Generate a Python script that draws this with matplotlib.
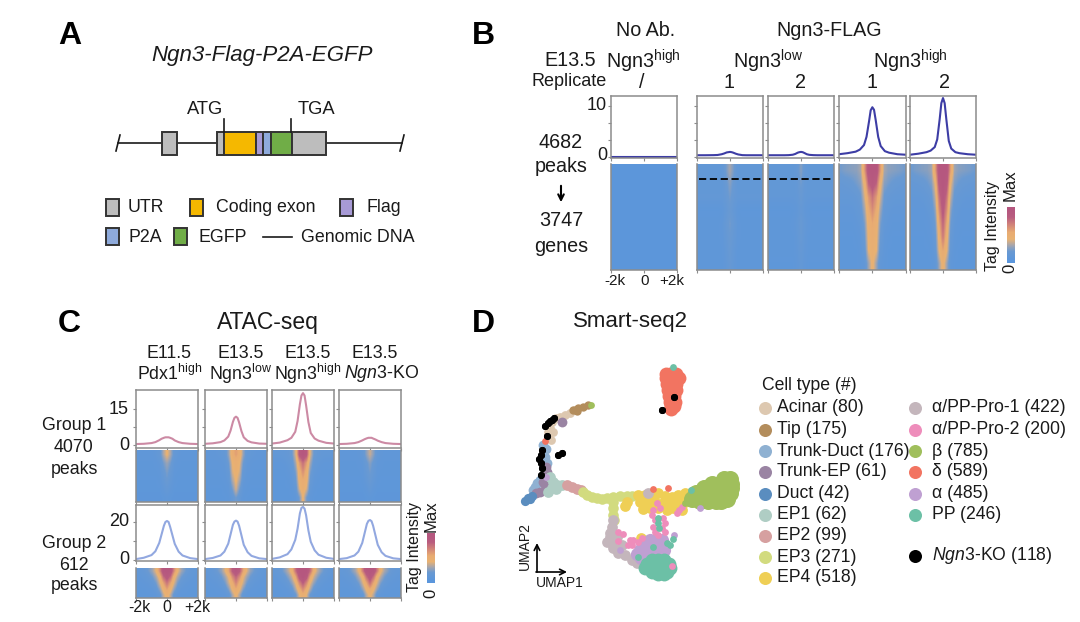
import numpy as np
import matplotlib
matplotlib.use('Agg')
import matplotlib.pyplot as plt
from matplotlib.colors import LinearSegmentedColormap
from matplotlib.patches import Rectangle

plt.rcParams['font.family'] = ['Liberation Sans', 'DejaVu Sans']
plt.rcParams['mathtext.fontset'] = 'custom'
plt.rcParams['mathtext.rm'] = 'Liberation Sans'
plt.rcParams['mathtext.it'] = 'Liberation Sans:italic'

W, H = 1080, 622
TXT = '#1a1a1a'

# gene model
exon_edges = [216.7, 224.3, 255.7, 262.7, 270.7, 291.7, 326]
exon_cols = ['#BDBDBD', '#F5B800', '#A79AD6', '#8EAADB', '#70AD47', '#BDBDBD']

# peak profiles, kb from the centre
kb = [-2, -1.5, -1, -.75, -.5, -.35, -.2, -.1, 0, .1, .2, .35, .5, .75, 1, 1.5, 2]
b_noab = [.1, .1, .1, .1, .1, .1, .1, .1, .1, .1, .1, .1, .1, .1, .1, .1, .1]
b_low1 = [.4, .4, .42, .45, .6, .75, .95, 1, 1.05, 1, .9, .7, .55, .42, .4, .4, .4]
b_low2 = [.4, .4, .4, .42, .5, .65, .9, 1, 1.05, 1, .85, .6, .48, .42, .4, .4, .4]
b_high1 = [.6, .8, 1.1, 1.5, 2.4, 4, 7, 9.2, 9.8, 9.3, 7.3, 4, 2.2, 1.2, .9, .6, .5]
b_high2 = [.5, .7, 1, 1.3, 2, 3.5, 7.5, 10.6, 11.6, 10.6, 7.5, 3.2, 1.7, 1, .8, .6, .5]
c1_pdx = [.4, .5, .8, 1.2, 2, 2.6, 3, 3.2, 3.2, 3.2, 3, 2.6, 1.9, 1.2, .8, .5, .4]
c1_low = [.5, .7, 1.2, 1.9, 3.5, 6, 9.6, 11.3, 11.8, 11.3, 9.4, 5.8, 3.2, 1.7, 1.1, .6, .5]
c1_high = [.6, 1, 2, 3, 5.5, 10, 17, 20.6, 21.6, 20.6, 16.5, 9.5, 5, 2.7, 1.8, .9, .6]
c1_ko = [.4, .5, .8, 1.2, 1.9, 2.4, 2.8, 3, 3, 3, 2.7, 2.3, 1.8, 1.2, .8, .5, .4]
c2_pdx = [.5, 1.2, 2.6, 4.6, 9, 13.5, 18, 20, 20.5, 20, 17.5, 13, 8.5, 4.4, 2.4, 1, .5]
c2_low = [.5, 1.1, 2.4, 4.4, 8.6, 13.5, 18.5, 20.2, 20.7, 20.2, 18, 13, 8, 4.1, 2.2, .9, .5]
c2_high = [.6, 1.4, 3.1, 5.6, 10.6, 16.5, 24.5, 27.4, 27.9, 27, 23.5, 15.5, 9.6, 5.1, 2.8, 1.2, .6]
c2_ko = [.5, 1, 2.4, 4.4, 9, 14, 19, 20.6, 21, 20.4, 18, 13, 8, 4.1, 2.2, .9, .5]

# heatmap rows top to bottom, columns centre to edge every 0.25 kb
hm_noab = [[.02] * 9, [.02] * 9]
hm_b_low1 = [[.3, .2, .1, .09, .09, .09, .09, .09, .09],
             [.24, .16, .09, .09, .09, .09, .09, .09, .09],
             [.2, .14, .1, .1, .1, .1, .1, .1, .1],
             [.17, .11, .06, .05, .05, .05, .05, .05, .05],
             [.2, .14, .07, .06, .06, .06, .06, .06, .06],
             [.18, .12, .07, .06, .06, .06, .06, .06, .06],
             [.16, .1, .06, .06, .06, .06, .06, .06, .06],
             [.14, .09, .06, .06, .06, .06, .06, .06, .06]]
hm_b_low2 = [[.24, .13, .09, .09, .09, .09, .09, .09, .09],
             [.2, .11, .09, .09, .09, .09, .09, .09, .09],
             [.16, .1, .09, .09, .09, .09, .09, .09, .09],
             [.13, .08, .06, .05, .05, .05, .05, .05, .05],
             [.16, .1, .07, .06, .06, .06, .06, .06, .06],
             [.15, .09, .06, .06, .06, .06, .06, .06, .06],
             [.13, .08, .06, .06, .06, .06, .06, .06, .06],
             [.11, .07, .05, .05, .05, .05, .05, .05, .05]]
hm_b_high1 = [[1, .98, .62, .3, .25, .24, .23, .22, .2],
              [.92, .82, .46, .24, .2, .17, .15, .14, .13],
              [.76, .62, .38, .17, .13, .11, .1, .1, .1],
              [.66, .54, .29, .13, .1, .08, .08, .08, .08],
              [.56, .48, .22, .1, .08, .06, .06, .06, .06],
              [.52, .45, .18, .08, .06, .05, .05, .05, .05],
              [.48, .42, .13, .07, .05, .05, .05, .05, .05],
              [.46, .28, .09, .06, .05, .05, .05, .05, .05]]
hm_b_high2 = [[1, .98, .58, .28, .24, .23, .22, .21, .19],
              [1, .9, .42, .22, .18, .15, .14, .13, .12],
              [.96, .76, .34, .15, .12, .1, .09, .09, .09],
              [.9, .66, .25, .11, .09, .07, .07, .07, .07],
              [.82, .55, .19, .09, .07, .06, .06, .06, .06],
              [.74, .47, .15, .07, .06, .05, .05, .05, .05],
              [.58, .42, .11, .06, .05, .05, .05, .05, .05],
              [.48, .28, .08, .05, .05, .05, .05, .05, .05]]
hm_c1_pdx = [[.44, .3, .13, .09, .07, .07, .07, .07, .07],
             [.28, .2, .09, .07, .06, .06, .06, .06, .06],
             [.22, .15, .07, .06, .06, .06, .06, .06, .06],
             [.18, .11, .06, .05, .05, .05, .05, .05, .05],
             [.12, .08, .05, .05, .05, .05, .05, .05, .05],
             [.07, .05, .04, .04, .04, .04, .04, .04, .04]]
hm_c1_low = [[.6, .52, .27, .12, .1, .09, .08, .08, .08],
             [.5, .42, .19, .09, .08, .07, .07, .07, .07],
             [.48, .38, .13, .08, .07, .06, .06, .06, .06],
             [.44, .3, .1, .07, .06, .06, .06, .06, .06],
             [.38, .2, .07, .06, .05, .05, .05, .05, .05],
             [.2, .11, .06, .05, .05, .05, .05, .05, .05]]
hm_c1_high = [[1, .9, .4, .18, .13, .11, .1, .1, .1],
              [.78, .6, .3, .13, .1, .08, .07, .07, .07],
              [.66, .5, .22, .1, .08, .06, .06, .06, .06],
              [.55, .46, .16, .08, .06, .05, .05, .05, .05],
              [.5, .38, .11, .06, .05, .05, .05, .05, .05],
              [.44, .2, .07, .05, .05, .05, .05, .05, .05]]
hm_c1_ko = [[.36, .24, .12, .08, .07, .07, .07, .07, .07],
            [.24, .16, .08, .07, .06, .06, .06, .06, .06],
            [.2, .13, .07, .06, .06, .06, .06, .06, .06],
            [.16, .1, .06, .05, .05, .05, .05, .05, .05],
            [.11, .07, .05, .05, .05, .05, .05, .05, .05],
            [.06, .05, .04, .04, .04, .04, .04, .04, .04]]
hm_c2_pdx = [[1, .98, .66, .42, .28, .2, .14, .11, .1],
             [.92, .78, .46, .3, .19, .13, .1, .09, .08],
             [.76, .58, .38, .2, .12, .09, .08, .07, .07],
             [.6, .46, .26, .12, .08, .07, .06, .06, .06],
             [.48, .34, .12, .07, .06, .06, .06, .06, .06]]
hm_c2_low = [[1, .86, .58, .4, .26, .19, .13, .1, .09],
             [.82, .66, .42, .28, .18, .12, .1, .09, .08],
             [.7, .52, .36, .2, .12, .09, .08, .07, .07],
             [.56, .44, .24, .11, .08, .07, .06, .06, .06],
             [.46, .3, .1, .07, .06, .06, .06, .06, .06]]
hm_c2_high = [[1, 1, .78, .48, .34, .24, .16, .12, .1],
              [1, .9, .56, .36, .24, .15, .11, .09, .08],
              [.86, .68, .42, .26, .15, .1, .08, .07, .07],
              [.68, .52, .32, .14, .09, .07, .06, .06, .06],
              [.52, .4, .16, .08, .07, .06, .06, .06, .06]]
hm_c2_ko = [[1, .98, .72, .44, .3, .22, .14, .11, .1],
            [.94, .76, .46, .32, .2, .13, .1, .09, .08],
            [.78, .56, .38, .21, .13, .09, .08, .07, .07],
            [.56, .44, .26, .12, .08, .07, .06, .06, .06],
            [.46, .32, .11, .07, .06, .06, .06, .06, .06]]
cbar_vals = [0, .1, .2, .3, .4, .5, .6, .7, .8, .9, 1]

# UMAP clusters
umap_names = ['Acinar (80)', 'Tip (175)', 'Trunk-Duct (176)', 'Trunk-EP (61)', 'Duct (42)',
              'EP1 (62)', 'EP2 (99)', 'EP3 (271)', 'EP4 (518)']
umap_names2 = ['α/PP-Pro-1 (422)', 'α/PP-Pro-2 (200)', 'β (785)', 'δ (589)', 'α (485)', 'PP (246)']
cols1 = ['#DDC8B0', '#B38D5C', '#8FB1D2', '#9A84A3', '#5A8DBF', '#AFCDC4', '#D6A0A0', '#D2DB7F', '#EFCF55']
cols2 = ['#C4B6BC', '#EE8DBB', '#A0BF5C', '#F27461', '#BFA0D2', '#6CC0A6']
acinar_x = [548, 550, 553, 552, 556, 560, 565, 570, 575, 548, 551]
acinar_y = [432, 428, 432, 422, 418, 417, 415, 413, 410, 436, 440]
tip_x = [573, 578, 583, 588, 577]
tip_y = [410, 408, 407, 405, 411]
tduct_x = [543, 545, 547, 537, 533, 537, 540, 546, 535, 543]
tduct_y = [445, 457, 463, 483, 490, 492, 480, 449, 487, 476]
tep_x = [546, 547, 543, 545, 540, 536, 562, 548]
tep_y = [467, 472, 482, 485, 492, 493, 422, 478]
duct_x = [525, 528, 532, 530]
duct_y = [501, 498, 496, 499]
ep1_x = [550, 553, 557, 552, 548, 562, 556]
ep1_y = [477, 482, 485, 488, 492, 485, 489]
ep2_x = [567, 572, 577, 581]
ep2_y = [485, 487, 489, 490]
ep3_x = [583, 587, 592, 597, 602, 607, 613, 620, 627, 632, 613, 613, 613, 614]
ep3_y = [492, 495, 497, 498, 499, 498, 497, 496, 496, 496, 502, 508, 515, 520]
ep4_x = [638, 645, 652, 658, 665, 672, 678, 685, 692, 640, 647, 655, 663, 670, 678, 685, 667, 673,
         650, 625, 627, 682, 643, 650, 658, 641]
ep4_y = [495, 495, 494, 493, 496, 497, 495, 493, 492, 502, 502, 502, 503, 503, 502, 502, 510, 508,
         498, 506, 502, 510, 509, 508, 508, 538]
pro1_x = [613, 612, 610, 607, 612, 617, 613, 618, 625, 632, 637, 622, 610, 648]
pro1_y = [520, 527, 533, 542, 542, 537, 548, 553, 555, 560, 563, 545, 537, 493]
pro2_x = [653, 660, 657, 652, 655, 663, 665, 653, 662, 655, 665, 658, 618, 623, 618, 630, 633, 638,
          628, 632, 642, 679, 677, 682, 672]
pro2_y = [510, 508, 503, 515, 520, 518, 523, 527, 528, 532, 532, 535, 532, 534, 541, 540, 540, 542,
          545, 545, 538, 510, 513, 507, 566]
beta_x = [724, 730, 712, 720, 728, 731, 704, 712, 720, 728, 731, 696, 704, 712, 720, 728, 730,
          692, 698, 706, 714, 722, 727, 700, 708, 716, 721]
beta_y = [479, 479, 484, 484, 484, 484, 488, 488, 488, 488, 488, 493, 493, 493, 493, 493, 493,
          499, 499, 499, 499, 499, 499, 501, 501, 501, 501]
beta_dot_x = [591, 685]
beta_dot_y = [405, 503]
delta_x = [666, 670, 676, 666, 670, 677, 679, 667, 671, 676, 668, 673, 676, 669, 674, 670, 675, 671,
           674, 671]
delta_y = [374, 374, 374, 378, 378, 378, 378, 384, 384, 384, 390, 390, 390, 396, 396, 402, 402, 406,
           406, 409]
delta_dot_x = [545, 653, 668]
delta_dot_y = [441, 489, 488]
alpha_x = [650, 656, 662, 645, 651, 657, 663, 640, 646, 652, 658, 664, 637, 642, 648, 654, 660, 641, 646]
alpha_y = [540, 540, 540, 545, 545, 545, 545, 550, 550, 550, 550, 550, 554, 555, 555, 555, 555, 558, 558]
alpha_dot_x = [620, 674, 700, 546]
alpha_dot_y = [550, 535, 508, 477]
pp_x = [652, 658, 664, 647, 652, 658, 664, 669, 645, 649, 655, 661, 667, 670, 652, 658, 664, 667, 658, 664]
pp_y = [560, 560, 560, 564, 564, 564, 564, 564, 568, 568, 568, 568, 568, 568, 572, 572, 572, 572, 574, 574]
pp_dot_x = [670, 673, 667, 653, 658, 659, 658, 673, 691, 638]
pp_dot_y = [545, 539, 543, 547, 523, 528, 518, 367, 490, 557]
ko_x = [548, 552, 554, 547, 542, 541, 539, 541, 542, 541, 558, 562, 662, 674, 545, 550]
ko_y = [423, 420, 418, 436, 450, 455, 459, 463, 468, 475, 455, 453, 410, 397, 426, 421]

umap_sizes = [40, 36, 50, 50, 44, 60, 60, 58, 60, 60, 24, 150, 100, 90, 100, 26]


def add_ax(x0, y0, x1, y1):
    return fig.add_axes([x0 / W, 1 - y1 / H, (x1 - x0) / W, (y1 - y0) / H])


def txt(x, y, s, size=12.5, ha='center', rot=0, **kw):
    fig.text(x / W, 1 - y / H, s, fontsize=size, ha=ha, va='center', rotation=rot,
             color=kw.pop('color', TXT), zorder=10, **kw)


def style_ax(ax):
    for sp in ax.spines.values():
        sp.set_color('#8c8c8c')
        sp.set_linewidth(1.1)
    ax.tick_params(length=2, width=.8, color='#8c8c8c', labelleft=False, labelbottom=False)


def line_panel(box, y, col, ylim, ticks):
    ax = add_ax(*box)
    ax.plot(kb, y, color=col, lw=1.5)
    ax.set_xlim(-2, 2)
    ax.set_ylim(*ylim)
    ax.set_xticks([-2, 0, 2])
    ax.set_yticks(ticks)
    style_ax(ax)
    return ax


def heat_panel(box, half):
    half = np.array(half)
    full = np.hstack([half[:, :0:-1], half])
    ax = add_ax(*box)
    ax.imshow(full, cmap=heat, vmin=0, vmax=1, aspect='auto', interpolation='bilinear',
              extent=[-2, 2, 0, 1])
    ax.set_xticks([-2, 0, 2])
    ax.set_yticks([])
    style_ax(ax)
    ax.spines['top'].set_visible(False)
    return ax


def cbar_panel(box):
    ax = add_ax(*box)
    ax.imshow(np.array(cbar_vals)[::-1, None], cmap=heat, vmin=0, vmax=1, aspect='auto',
              interpolation='bilinear')
    ax.axis('off')


heat = LinearSegmentedColormap.from_list('heat', [(0, '#5b96dc'), (.18, '#6a9ad2'), (.3, '#a8a6ac'),
                                                  (.42, '#e9b273'), (.55, '#e8ac72'), (.72, '#cf7f7a'),
                                                  (.85, '#b95d80'), (1, '#b5577f')])

fig = plt.figure(figsize=(W / 100, H / 100), dpi=100)
bg = fig.add_axes([0, 0, 1, 1])
bg.set_xlim(0, W)
bg.set_ylim(H, 0)
bg.axis('off')
bg.set_zorder(5)

# panel letters
for s, x, y in [('A', 70, 36), ('B', 483, 36), ('C', 69, 324), ('D', 483, 324)]:
    txt(x, y, s, size=23, fontweight='bold', color='black')

# A
txt(262, 55, 'Ngn3-Flag-P2A-EGFP', size=16, style='italic')
bg.plot([118, 402], [143, 143], color=TXT, lw=1.2, zorder=1)
for xm in (118, 402):
    bg.plot([xm - 2, xm + 2], [151, 135], color=TXT, lw=1.2)
bg.add_patch(Rectangle((161.7, 131.7), 15, 23.3, fc='#BDBDBD', ec='#333333', lw=1.4, zorder=2))
for i, c in enumerate(exon_cols):
    bg.add_patch(Rectangle((exon_edges[i], 131.7), exon_edges[i + 1] - exon_edges[i], 23.3,
                           fc=c, ec='#333333', lw=1.4, zorder=2))
bg.plot([224.3, 224.3], [119, 132], color=TXT, lw=1.2)
bg.plot([291, 291], [119, 132], color=TXT, lw=1.2)
txt(205, 109, 'ATG', size=13.2)
txt(316, 109, 'TGA', size=13.2)
for x, y, c in [(106, 199, '#BDBDBD'), (190, 199, '#F5B800'), (340, 199, '#A79AD6'),
                (106, 228, '#8EAADB'), (174, 228, '#70AD47')]:
    bg.add_patch(Rectangle((x, y), 13, 17, fc=c, ec='#333333', lw=1.4))
bg.plot([263, 292], [237, 237], color=TXT, lw=1.2)
for x, y, s in [(128, 207, 'UTR'), (216, 207, 'Coding exon'), (367, 207, 'Flag'),
                (128, 237, 'P2A'), (199, 237, 'EGFP'), (301, 237, 'Genomic DNA')]:
    txt(x, y, s, size=12.8, ha='left')

# B
b_boxes = [(610.7, 676.7), (697, 763), (768, 834), (839, 905.7), (910, 976)]
b_lines = [b_noab, b_low1, b_low2, b_high1, b_high2]
b_heats = [hm_noab, hm_b_low1, hm_b_low2, hm_b_high1, hm_b_high2]
for i, (x0, x1) in enumerate(b_boxes):
    line_panel((x0, 96, x1, 158.3), b_lines[i], '#3D3DA5', (-.2, 12), [0, 10 / 3, 20 / 3, 10])
    heat_panel((x0, 164, x1, 270), b_heats[i])
bg.plot([699, 763], [179.3, 179.3], color='black', lw=1.3, ls=(0, (4, 2)), zorder=5)
bg.plot([769, 834], [179.3, 179.3], color='black', lw=1.3, ls=(0, (4, 2)), zorder=5)
for x, y, s in [(646, 30, 'No Ab.'), (829, 30, 'Ngn3-FLAG'), (570, 61, 'E13.5'),
                (643, 61, 'Ngn3$^{\\mathrm{high}}$'), (768, 61, 'Ngn3$^{\\mathrm{low}}$'),
                (910, 61, 'Ngn3$^{\\mathrm{high}}$'), (642, 82, '/'),
                (729, 82, '1'), (801, 82, '2'), (872, 82, '1'), (944, 82, '2'),
                (561, 143, '4682'), (561, 167, 'peaks'), (561, 221, '3747'), (561, 246, 'genes')]:
    txt(x, y, s, size=14.2)
txt(569, 82, 'Replicate', size=13)
txt(607, 105, '10', size=13, ha='right')
txt(607, 155, '0', size=13, ha='right')
txt(615, 281, '-2k', size=11)
txt(645, 281, '0', size=11)
txt(672, 281, '+2k', size=11)
bg.annotate('', xy=(561, 205), xytext=(561, 183), arrowprops=dict(arrowstyle='->', color='black', lw=1.5))
cbar_panel((1007, 207, 1015, 263))
txt(992, 226, 'Tag Intensity', size=11.5, rot=90)
txt(1010, 185, 'Max', size=12, rot=90)
txt(1010, 268, '0', size=12, rot=90)

# C
c_boxes = [(136, 198), (205, 267), (272, 334), (339, 401)]
c_l1 = [c1_pdx, c1_low, c1_high, c1_ko]
c_l2 = [c2_pdx, c2_low, c2_high, c2_ko]
c_h1 = [hm_c1_pdx, hm_c1_low, hm_c1_high, hm_c1_ko]
c_h2 = [hm_c2_pdx, hm_c2_low, hm_c2_high, hm_c2_ko]
for i, (x0, x1) in enumerate(c_boxes):
    line_panel((x0, 390, x1, 448), c_l1[i], '#CC8AA4', (-1.25, 22.9), [0, 7.5, 15])
    heat_panel((x0, 450, x1, 502), c_h1[i])
    line_panel((x0, 505, x1, 561), c_l2[i], '#92A8E0', (-.5, 28.9), [0, 10, 20])
    heat_panel((x0, 568, x1, 598), c_h2[i])
txt(268, 323, 'ATAC-seq', size=16.5)
for x, s1, s2 in [(169.5, 'E11.5', 'Pdx1$^{\\mathrm{high}}$'), (240.5, 'E13.5', 'Ngn3$^{\\mathrm{low}}$'),
                  (308, 'E13.5', 'Ngn3$^{\\mathrm{high}}$'), (375, 'E13.5', '$\\mathit{Ngn3}$-KO')]:
    txt(x, 353, s1, size=12.8)
    txt(382 if 'KO' in s2 else x, 374, s2, size=12.8)
for y, s in [(426, 'Group 1'), (447, '4070'), (469, 'peaks'), (544, 'Group 2'), (566, '612'), (586, 'peaks')]:
    txt(74, y, s, size=12.8)
txt(129, 409, '15', size=13, ha='right')
txt(129, 446, '0', size=13, ha='right')
txt(129, 522, '20', size=13, ha='right')
txt(129, 560, '0', size=13, ha='right')
txt(139, 608, '-2k', size=11.5)
txt(167, 608, '0', size=11.5)
txt(197, 608, '+2k', size=11.5)
cbar_panel((427, 533, 435, 583))
txt(414, 547, 'Tag Intensity', size=11.5, rot=90)
txt(431, 516, 'Max', size=12, rot=90)
txt(431, 593, '0', size=12, rot=90)

# D
ux = [acinar_x, tip_x, tduct_x, tep_x, duct_x, ep1_x, ep2_x, ep3_x, ep4_x,
      pro1_x, pro2_x, beta_x, delta_x, alpha_x, pp_x, ko_x]
uy = [acinar_y, tip_y, tduct_y, tep_y, duct_y, ep1_y, ep2_y, ep3_y, ep4_y,
      pro1_y, pro2_y, beta_y, delta_y, alpha_y, pp_y, ko_y]
ucols = cols1 + cols2 + ['black']
order = [0, 1, 2, 3, 4, 5, 6, 7, 8, 9, 11, 12, 13, 14, 10, 15]
for i in order:
    bg.scatter(ux[i], uy[i], s=umap_sizes[i], color=ucols[i], linewidths=0)
for dx, dy, c in [(beta_dot_x, beta_dot_y, cols2[2]), (delta_dot_x, delta_dot_y, cols2[3]),
                  (alpha_dot_x, alpha_dot_y, cols2[4]), (pp_dot_x, pp_dot_y, cols2[5])]:
    bg.scatter(dx, dy, s=24, color=c, linewidths=0)
bg.scatter(ko_x, ko_y, s=umap_sizes[15], color='black', linewidths=0)
bg.annotate('', xy=(537, 543), xytext=(537, 572), arrowprops=dict(arrowstyle='->', color='black', lw=1.2,
                                                                  shrinkA=0, shrinkB=0))
bg.annotate('', xy=(567, 572), xytext=(536, 572), arrowprops=dict(arrowstyle='->', color='black', lw=1.2,
                                                                  shrinkA=0, shrinkB=0))
txt(525, 546, 'UMAP2', size=10, rot=90)
txt(560, 583, 'UMAP1', size=10)
txt(630, 322, 'Smart-seq2', size=16)
txt(762, 385, 'Cell type (#)', size=12.7, ha='left')
ys1 = [408, 429.5, 451, 472, 493.5, 514.5, 536, 557, 578]
for y, s, c in zip(ys1, umap_names, cols1):
    bg.scatter([765], [y], s=88, color=c, linewidths=0)
    txt(777, y, s, size=12.7, ha='left')
for y, s, c in zip(ys1, umap_names2, cols2):
    bg.scatter([915], [y], s=88, color=c, linewidths=0)
    txt(932, y, s, size=12.7, ha='left')
bg.scatter([915], [556], s=88, color='black', linewidths=0)
txt(932, 556, '$\\mathit{Ngn3}$-KO (118)', size=12.7, ha='left')

fig.savefig('out.png', dpi=100)
